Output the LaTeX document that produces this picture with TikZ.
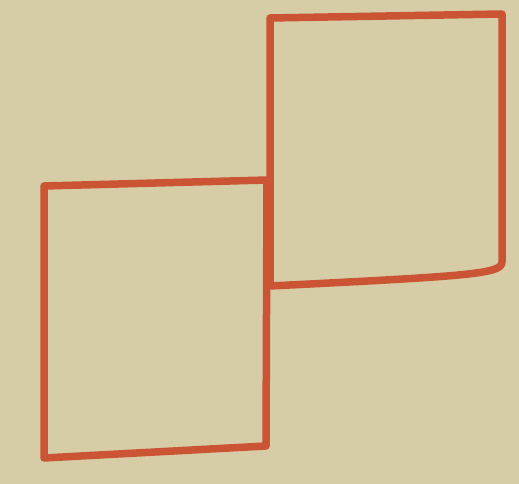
\documentclass[tikz,border=0pt]{standalone}
\definecolor{paper}{RGB}{214,205,167}
\definecolor{ink}{RGB}{203,84,52}
\begin{document}
\begin{tikzpicture}[x=1pt,y=-1pt,
  pen/.style={draw=ink,line width=7.5pt,line join=round,line cap=round}]
\fill[paper] (0,0) rectangle (519,484);
\useasboundingbox (0,0) rectangle (519,484);
% left rectangle
\coordinate (l1) at (44,186);
\coordinate (l2) at (267,180);
\coordinate (l3) at (266,446);
\coordinate (l4) at (44,458);
\draw[pen] (l1) -- (l2) -- (l3) -- (l4) -- cycle;
% right rectangle
\coordinate (r1) at (270,18);
\coordinate (r2) at (502,14);
\coordinate (r3) at (502,262);
\coordinate (r4) at (270,286);
\draw[pen] (r1) -- (r2) -- (r3) .. controls (502,274) and (470,276) .. (r4) -- cycle;
\end{tikzpicture}
\end{document}
